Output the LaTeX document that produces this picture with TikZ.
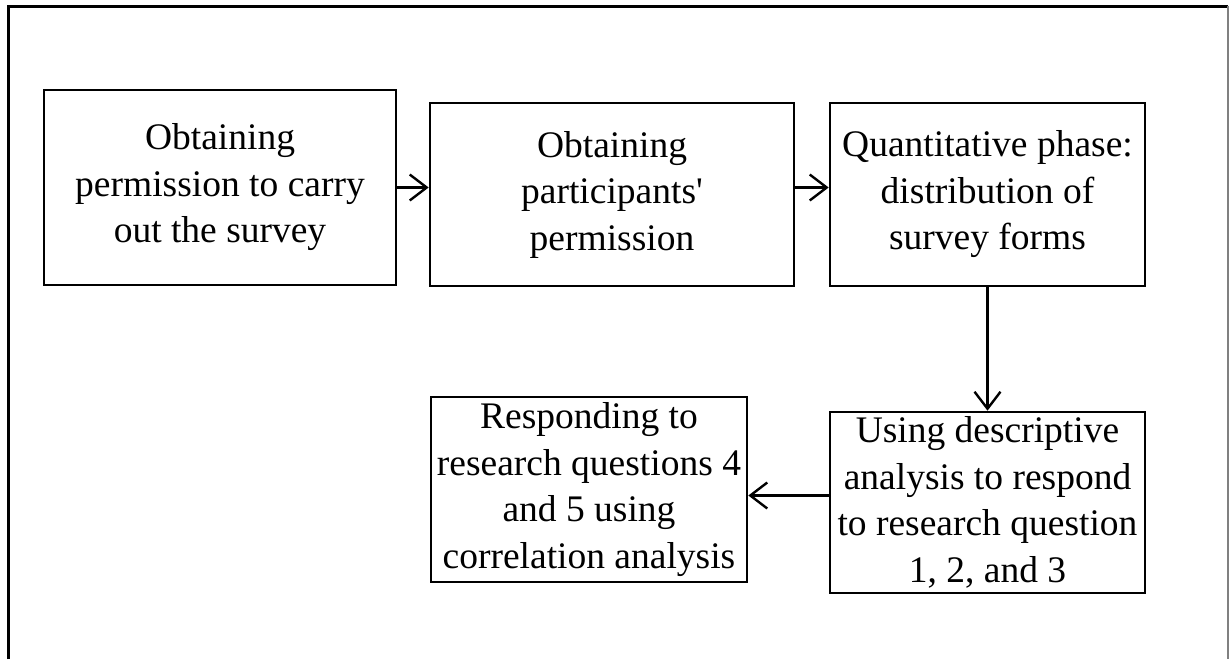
\documentclass[tikz,border=0pt]{standalone}
\usepackage{fontspec}
\setmainfont{Liberation Serif}
\usetikzlibrary{arrows.meta,calc,positioning}

\begin{document}
\begin{tikzpicture}[x=1pt,y=-1pt,>={Straight Barb[length=17pt,width=26pt]},
  stagebox/.style={draw,line width=2.6pt,align=center,inner sep=0pt,
    font=\fontsize{37.5}{46.5}\selectfont},
  flow/.style={->,line width=2.4pt}]
  \useasboundingbox (0,0) rectangle (1229,659);
  % open frame round the stages
  \draw[line width=3pt] (8,659) -- (8,6) -- (1228,6);
  \draw[gray,line width=1.2pt] (1228,6) -- (1228,659);
  \node[stagebox,minimum width=352pt,minimum height=195pt] (permit) at (220,187.5)
    {Obtaining\\permission to carry\\out the survey};
  \node[stagebox,minimum width=364pt,minimum height=183pt] (consent) at (612,194.5)
    {Obtaining\\participants\textquotesingle\\permission};
  \node[stagebox,minimum width=315pt,minimum height=183pt] (quant) at (987.5,194.5)
    {Quantitative phase:\\distribution of\\survey forms};
  \node[stagebox,minimum width=315pt,minimum height=181pt] (descr) at (987.5,502.5)
    {Using descriptive\\analysis to respond\\to research question\\1, 2, and 3};
  \node[stagebox,minimum width=316pt,minimum height=185pt] (correl) at (589,489.5)
    {Responding to\\research questions 4\\and 5 using\\correlation analysis};
  \draw[flow] (permit.east) -- (permit.east -| consent.west);
  \draw[flow] (permit.east -| consent.east) -- (permit.east -| quant.west);
  \draw[flow] (quant.south) -- (descr.north);
  \draw[flow] ($(descr.west)+(0,-7)$) -- ($(descr.west -| correl.east)+(0,-7)$);
\end{tikzpicture}
\end{document}
